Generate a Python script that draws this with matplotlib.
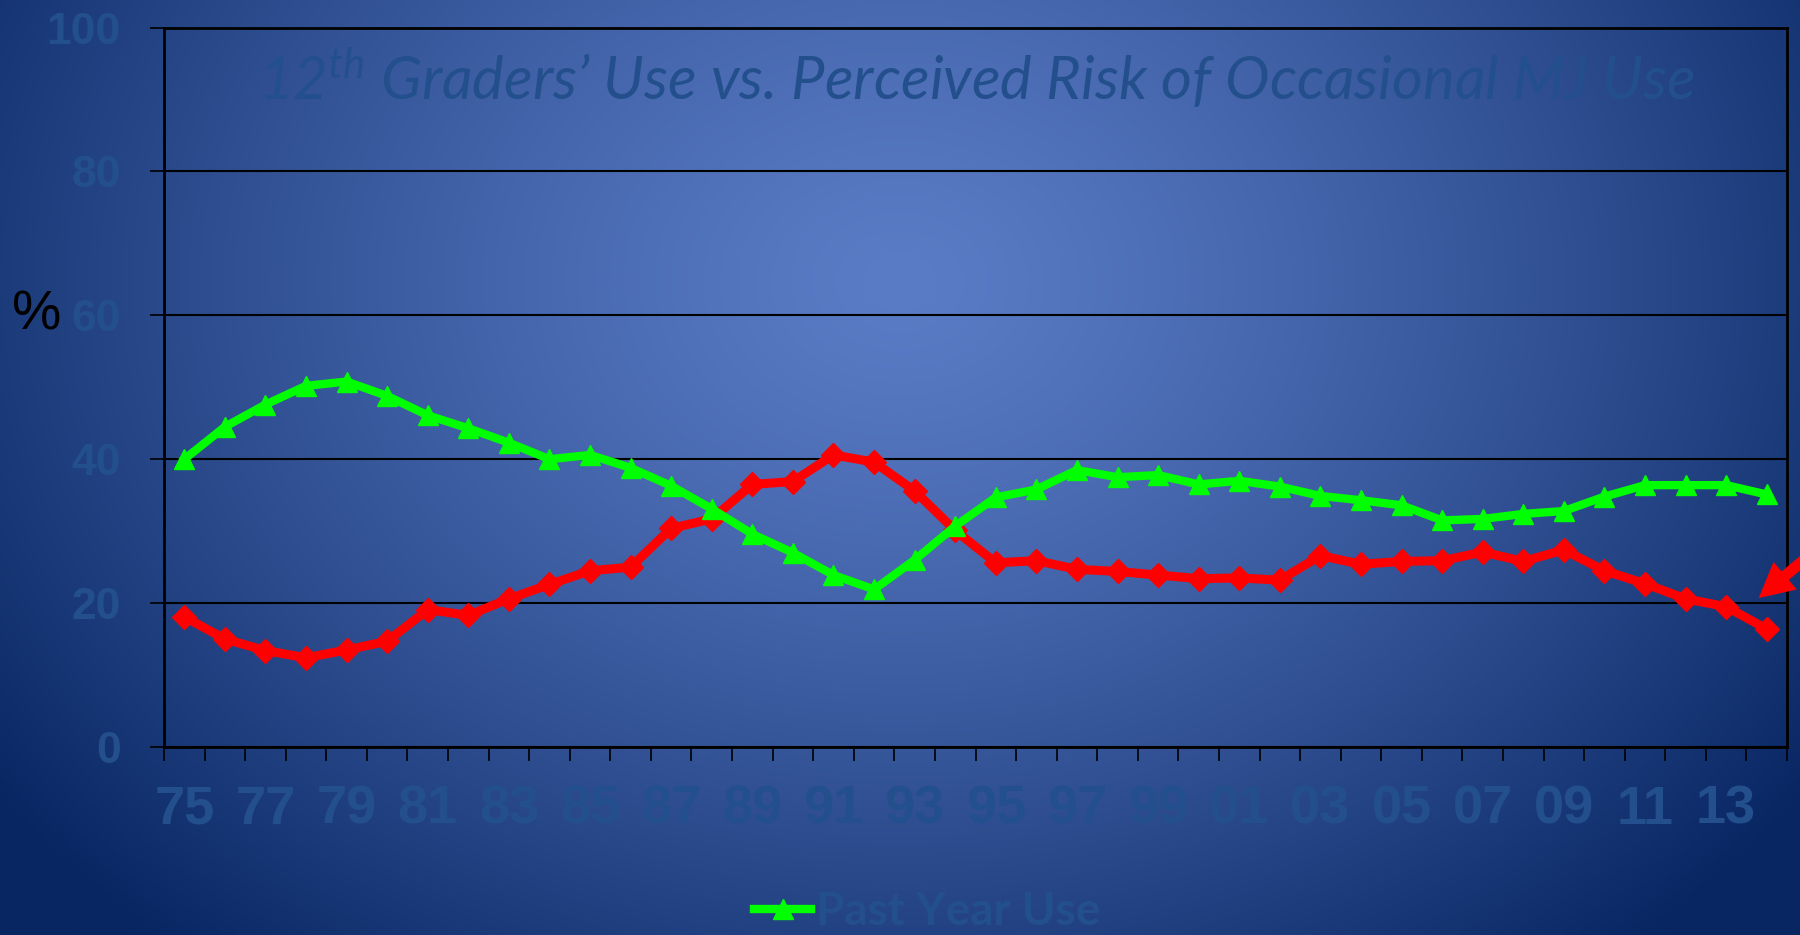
import numpy as np
import matplotlib
matplotlib.use("Agg")
from matplotlib import pyplot as plt

# Monitoring the Future style data, 12th graders, 1975-2014
years = list(range(1975, 2015))
tick_labels = ["%02d" % (y % 100) for y in years[::2]]
past_year_use = [40.0, 44.5, 47.6, 50.2, 50.8, 48.8, 46.1, 44.3, 42.3, 40.0,
                 40.6, 38.8, 36.3, 33.1, 29.6, 27.0, 23.9, 21.9, 26.0, 30.7,
                 34.7, 35.8, 38.5, 37.5, 37.8, 36.5, 37.0, 36.2, 34.9, 34.3,
                 33.6, 31.5, 31.7, 32.4, 32.8, 34.8, 36.4, 36.4, 36.4, 35.1]
perceived_risk = [18.1, 15.0, 13.4, 12.4, 13.5, 14.7, 19.1, 18.3, 20.6, 22.6,
                  24.5, 25.0, 30.4, 31.7, 36.5, 36.9, 40.6, 39.6, 35.6, 30.1,
                  25.6, 25.9, 24.7, 24.4, 23.9, 23.4, 23.5, 23.2, 26.6, 25.4,
                  25.8, 25.9, 27.1, 25.8, 27.4, 24.5, 22.7, 20.6, 19.5, 16.4]

W, H = 1800, 935
fig = plt.figure(figsize=(W / 100, H / 100), dpi=100)

# radial blue background
bg = fig.add_axes([0, 0, 1, 1], zorder=-10)
u, v = np.meshgrid(np.linspace(0, 1, 400), np.linspace(0, 1, 220))
d = np.sqrt(((u - 0.5) / 0.62) ** 2 + ((v - 0.3) / 0.95) ** 2)
t = np.clip(d, 0, 1) ** 1.3
c0 = np.array([90, 124, 198]) / 255
c1 = np.array([8, 38, 98]) / 255
img = c0[None, None, :] * (1 - t[..., None]) + c1[None, None, :] * t[..., None]
bg.imshow(img, aspect="auto", extent=[0, 1, 0, 1], interpolation="bicubic")
bg.axis("off")

txt_col = "#23508c"

ax = fig.add_axes([164 / W, 1 - 747 / H, (1787 - 164) / W, (747 - 27.6) / H])
ax.set_facecolor("none")
x = np.arange(len(years))

l_risk, = ax.plot(x, perceived_risk, color="#ff0000", lw=6.5, marker="D", ms=12,
                  solid_joinstyle="round", clip_on=False, zorder=3)
l_use, = ax.plot(x, past_year_use, color="#00ff00", lw=6, marker="^", ms=15,
                 solid_joinstyle="round", clip_on=False, zorder=4)

ax.set_xlim(-0.5, len(years) - 0.5)
ax.set_ylim(0, 100)
ax.set_yticks([0, 20, 40, 60, 80, 100])
ax.yaxis.grid(True, color="black", lw=1.5)
ax.set_axisbelow(True)
ax.set_xticks(np.arange(-0.5, len(years), 1))
ax.set_xticklabels([])
ax.set_xticks(x[::2], minor=True)
ax.set_xticklabels(tick_labels, minor=True)
ax.tick_params(axis="x", which="major", length=10, width=1.2, color="black")
ax.tick_params(axis="x", which="minor", length=0, pad=27, labelcolor=txt_col,
               labelsize=39)
ax.tick_params(axis="y", length=10, width=1.2, color="black", pad=21,
               labelcolor=txt_col, labelsize=32)
for lab in ax.get_xticklabels(minor=True):
    lab.set_family(["Liberation Sans Narrow", "Liberation Sans", "DejaVu Sans"])
    lab.set_fontweight("bold")
for lab in ax.get_yticklabels():
    lab.set_family(["Liberation Sans", "DejaVu Sans"])
    lab.set_fontweight("bold")
for s in ax.spines.values():
    s.set_color("black")
    s.set_linewidth(2)

# red arrow pointing at the last risk value, coming in from the right edge
ax.annotate("", xy=(38.8, 20.7), xytext=(41.6, 34.0),
            arrowprops=dict(width=8, headwidth=26, headlength=25, shrink=0,
                            color="#ff0000", lw=0),
            annotation_clip=False)

fig.text(37 / W, 1 - 316 / H, "%", color="black", fontsize=40,
         family=["Liberation Sans", "DejaVu Sans"], ha="center", va="center")

plt.rcParams["mathtext.fontset"] = "custom"
plt.rcParams["mathtext.rm"] = "Lato:italic"
plt.rcParams["mathtext.it"] = "Lato:italic"
fig.text(976 / W, 1 - 100 / H,
         r"12$^{\mathrm{th}}$ Graders’ Use vs. Perceived Risk of Occasional MJ Use",
         color=txt_col, fontsize=43, style="italic", family=["Lato", "DejaVu Sans"],
         ha="center", va="baseline")

leg = fig.legend(handles=[l_use], labels=["Past Year Use"], loc="center left",
                 bbox_to_anchor=(754 / W, 1 - 912 / H), frameon=False,
                 borderpad=0, borderaxespad=0, handlelength=1.25,
                 handletextpad=0.1,
                 prop=dict(family=["Lato", "DejaVu Sans"], weight="bold", size=33))
for tx in leg.get_texts():
    tx.set_color(txt_col)

fig.savefig("out.png", dpi=100)
